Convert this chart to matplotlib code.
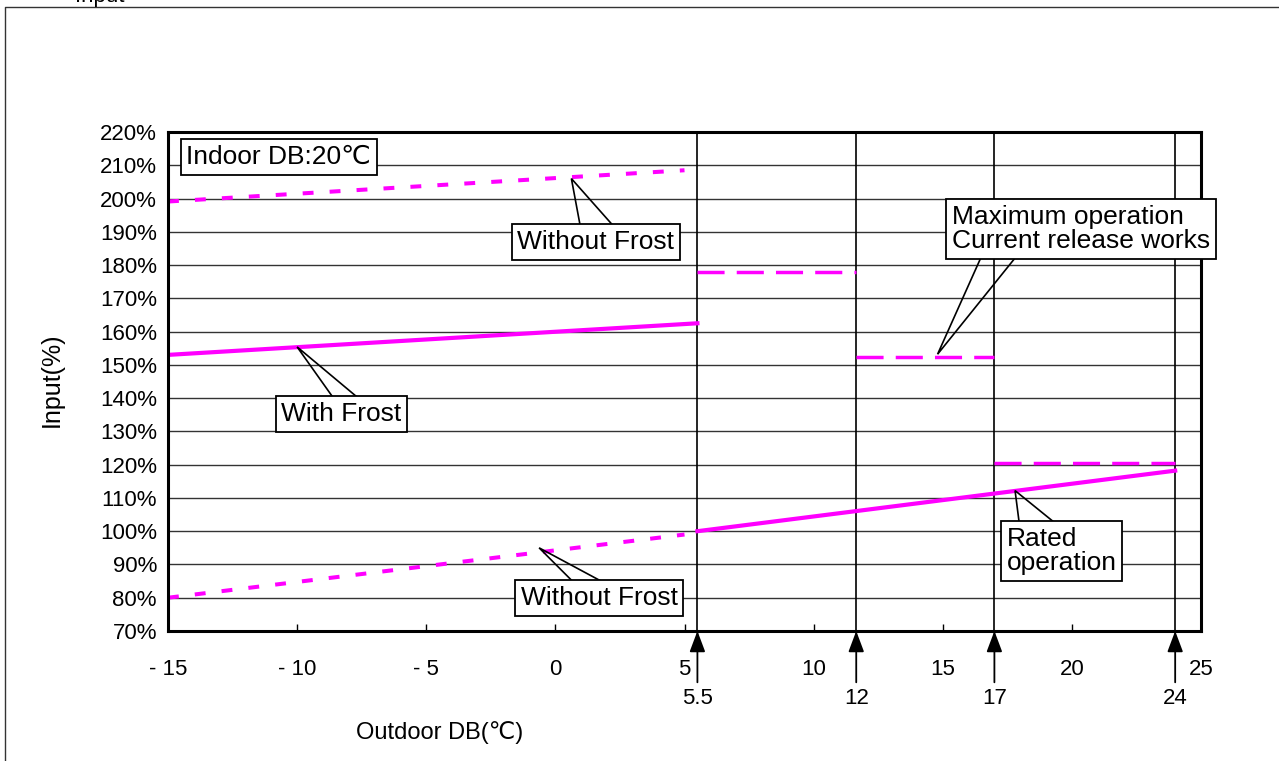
import matplotlib
matplotlib.use("Agg")
from matplotlib import pyplot as plt
from matplotlib.lines import Line2D

plt.rcParams['font.family'] = ['Liberation Sans', 'DejaVu Sans']

# data (x: outdoor DB degC, y: input %)
without_frost_hi_x = [-15, 5]
without_frost_hi_y = [199.1, 208.5]
with_frost_x = [-15, 5.5]
with_frost_y = [153, 162.5]
without_frost_lo_x = [-15, 5]
without_frost_lo_y = [80, 99]
rated_x = [5.5, 24]
rated_y = [100, 118.2]
max_seg_x = [[5.5, 11.65], [11.65, 17], [17, 24]]
max_seg_y = [177.8, 152.5, 120.4]

sep_x = [5.5, 11.65, 17, 24]
sep_labels = ['5.5', '12', '17', '24']

xticks = [-15, -10, -5, 0, 5, 10, 15, 20, 25]
xtick_labels = ['- 15', '- 10', '- 5', '0', '5', '10', '15', '20', '25']
yticks = list(range(70, 221, 10))

MAG = '#ff00ff'

fig = plt.figure(figsize=(12.79, 7.61), dpi=100)
ax = fig.add_axes([168/1279, 1-631/761, (1201-168)/1279, (631-132)/761])
ax.set_xlim(-15, 25)
ax.set_ylim(70, 220)

for s in ax.spines.values():
    s.set_linewidth(2.2)

ax.set_xticks(xticks)
ax.set_xticklabels(xtick_labels)
ax.set_yticks(yticks)
ax.set_yticklabels([f'{v}%' for v in yticks])
ax.tick_params(axis='x', direction='in', length=5, width=1, pad=20, labelsize=16)
ax.tick_params(axis='y', length=0, pad=8, labelsize=16)
ax.yaxis.grid(True, color='#333333', lw=1)

for x in sep_x:
    ax.axvline(x, color='black', lw=1.2, zorder=1.6)

# curves
ax.plot(without_frost_hi_x, without_frost_hi_y, color=MAG, lw=2.9, dashes=(2.7, 4.0))
ax.plot(with_frost_x, with_frost_y, color=MAG, lw=3)
ax.plot(without_frost_lo_x, without_frost_lo_y, color=MAG, lw=2.9, dashes=(2.7, 4.0))
ax.plot(rated_x, rated_y, color=MAG, lw=3)
for sx, sy in zip(max_seg_x, max_seg_y):
    ax.plot(sx, [sy, sy], color=MAG, lw=2.5, dashes=(7.8, 3.5))

# arrows + labels under the axis
for x, lab in zip(sep_x, sep_labels):
    ax.annotate(lab, xy=(x, 0), xycoords=('data', 'axes fraction'),
                xytext=(x, -0.135), textcoords=('data', 'axes fraction'),
                ha='center', va='center', fontsize=16, annotation_clip=False,
                arrowprops=dict(arrowstyle='-|>,head_length=0.8,head_width=0.3',
                                color='black', lw=1.3, shrinkA=2, shrinkB=0))

box = dict(boxstyle='square,pad=0.22', fc='white', ec='black', lw=1.3)

ax.text(-10.71, 212.5, 'Indoor DB:20℃', fontsize=19, ha='center', va='center', bbox=box)

# callouts: text box + wedge pointer (tip, box centre, base position along box edge, base width px, edge)
callouts = [
    ('Without Frost', (0.62, 206), (1.57, 186.9), 0.5, 32, 'top'),
    ('With Frost', (-10.0, 155.4), (-8.28, 135.2), 0.52, 24, 'top'),
    ('Without Frost', (-0.63, 95), (1.69, 79.9), 0.42, 28, 'top'),
    ('Maximum operation\nCurrent release works', (14.8, 153.2), (20.35, 190.8), 0.19, 34, 'bottom'),
    ('Rated\noperation', (17.8, 112.2), (19.6, 94.0), 0.29, 34, 'top'),
]

texts = []
for txt, tip, cen, rel, w, edge in callouts:
    t = ax.text(cen[0], cen[1], txt, fontsize=19, ha='center', va='center',
                multialignment='left', linespacing=1.0, bbox=box, zorder=4)
    texts.append(t)

fig.canvas.draw()
inv = ax.transData.inverted()
for t, (txt, tip, cen, rel, w, edge) in zip(texts, callouts):
    bb = t.get_bbox_patch().get_window_extent()
    ye = bb.y1 if edge == 'top' else bb.y0
    bx = bb.x0 + rel * bb.width
    p0 = inv.transform((bx - w / 2, ye))
    p1 = inv.transform((bx + w / 2, ye))
    ax.plot([p0[0], tip[0], p1[0]], [p0[1], tip[1], p1[1]],
            color='black', lw=1.2, zorder=3.5, solid_joinstyle='miter')

ax.set_xlabel('Outdoor DB(℃)', fontsize=17)
ax.xaxis.set_label_coords(0.263, -0.204)
ax.xaxis.label.set_verticalalignment('center')
ax.set_ylabel('Input(%)', fontsize=18)
ax.yaxis.set_label_coords(-0.1123, 0.503)
ax.yaxis.label.set_verticalalignment('center')

# outer frame and cut-off title
fig.add_artist(Line2D([5/1279, 5/1279, 1], [0, 1-7/761, 1-7/761],
                      transform=fig.transFigure, color='#333333', lw=1))
fig.text(75/1279, 1-2/761, 'Input', fontsize=16, va='baseline')

fig.savefig('out.png', dpi=100)
